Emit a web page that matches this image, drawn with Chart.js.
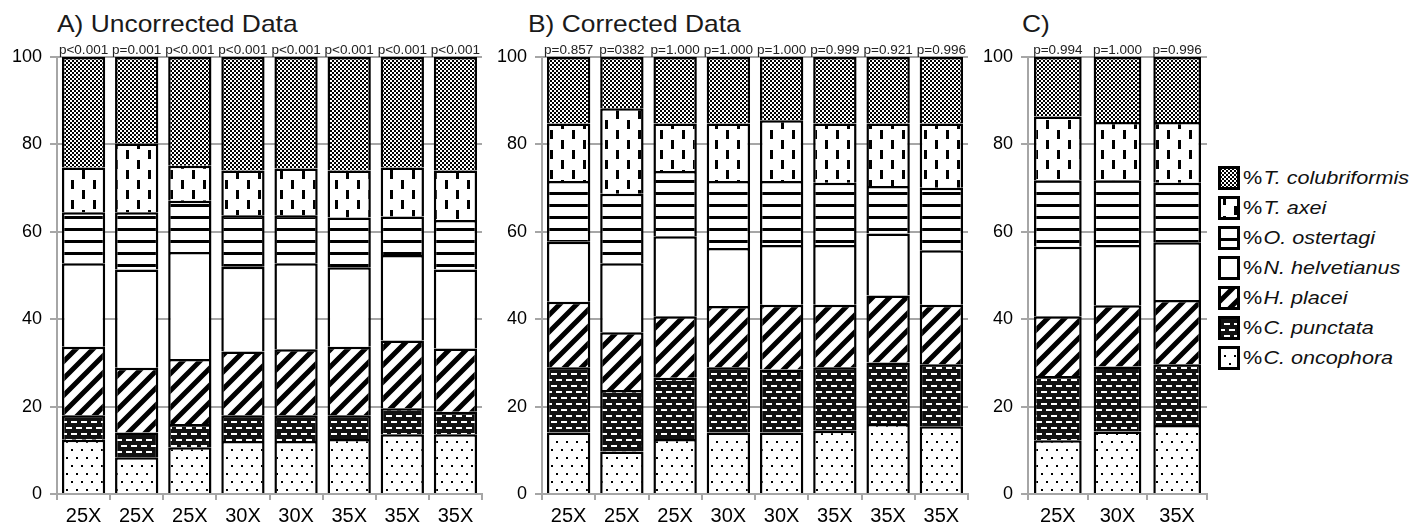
<!DOCTYPE html>
<html>
<head>
<meta charset="utf-8">
<script src="https://cdn.jsdelivr.net/npm/chart.js@4.4.1/dist/chart.umd.min.js"></script>
<style>
body { margin: 0; background: #fff; font-family: "Liberation Sans", Arial, sans-serif; }
#wrap { position: relative; width: 1427px; height: 529px; overflow: hidden; }
#wrap > canvas { position: absolute; top: 0; }
.title { position: absolute; top: 12px; font-size: 24px; line-height: 24px; color: #1a1a1a;
  transform-origin: left top; transform: scaleX(1.1); white-space: nowrap; }
#legend { position: absolute; left: 1218px; top: 166px; }
.row { height: 30px; display: flex; align-items: flex-start; }
.row span { font-size: 18px; line-height: 24px; color: #111; margin-left: 3px;
  transform-origin: left center; transform: scaleX(1.2); white-space: nowrap; }
.row i { margin-left: 1px; }
</style>
</head>
<body>
<div id="wrap">
  <div class="title" style="left:57px">A) Uncorrected Data</div>
  <div class="title" style="left:528px">B) Corrected Data</div>
  <div class="title" style="left:1022px">C)</div>
  <canvas id="chartA" width="490" height="529" style="left:0px"></canvas>
  <canvas id="chartB" width="485" height="529" style="left:490px"></canvas>
  <canvas id="chartC" width="240" height="529" style="left:975px"></canvas>
  <div id="legend"></div>
</div>
<script>
// stack order, bottom to top
const species = ['C. oncophora', 'C. punctata', 'H. placei', 'N. helvetianus', 'O. ostertagi', 'T. axei', 'T. colubriformis'];

const labelsAB = ['25X', '25X', '25X', '30X', '30X', '35X', '35X', '35X'];
const labelsC = ['25X', '30X', '35X'];

const pA = ['p<0.001', 'p=0.001', 'p<0.001', 'p<0.001', 'p<0.001', 'p<0.001', 'p<0.001', 'p<0.001'];
const pB = ['p=0.857', 'p=0382', 'p=1.000', 'p=1.000', 'p=1.000', 'p=0.999', 'p=0.921', 'p=0.996'];
const pC = ['p=0.994', 'p=1.000', 'p=0.996'];

// A) uncorrected, one row per species (same order as species)
const seriesA = [
  [12.4, 8.4, 10.7, 12.1, 12.1, 12.6, 13.7, 13.7],
  [5.6, 5.7, 5.3, 5.9, 5.9, 5.4, 5.9, 5.1],
  [15.7, 14.8, 14.9, 14.6, 15.1, 15.7, 15.5, 14.5],
  [19.1, 22.5, 24.5, 19.4, 19.7, 18.2, 19.6, 18.1],
  [11.7, 13.1, 11.7, 11.8, 11.0, 11.4, 8.8, 11.3],
  [10.2, 15.7, 8.0, 10.2, 10.7, 10.7, 11.2, 11.3],
  [25.3, 19.8, 24.9, 26.0, 25.5, 26.0, 25.3, 26.0]
];
// B) corrected
const seriesB = [
  [14.1, 9.7, 12.6, 14.1, 14.1, 14.5, 16.0, 15.5],
  [14.9, 14.1, 14.0, 14.9, 14.4, 14.5, 14.1, 14.2],
  [15.0, 13.2, 14.1, 14.0, 14.8, 14.3, 15.3, 13.6],
  [13.7, 15.8, 18.3, 13.3, 13.7, 13.7, 14.2, 12.5],
  [13.9, 15.9, 14.9, 15.3, 14.6, 14.2, 10.9, 14.3],
  [13.2, 19.6, 10.9, 13.2, 13.9, 13.6, 14.3, 14.7],
  [15.2, 11.7, 15.2, 15.2, 14.5, 15.2, 15.2, 15.2]
];
// C)
const seriesC = [
  [12.3, 14.3, 15.8],
  [14.7, 14.9, 13.9],
  [13.7, 14.0, 14.7],
  [15.9, 13.8, 13.2],
  [15.2, 14.8, 13.6],
  [14.6, 13.3, 13.9],
  [13.6, 14.9, 14.9]
];

// --- fill patterns ---
function tile(w, h, bg, draw) {
  const c = document.createElement('canvas');
  c.width = w; c.height = h;
  const g = c.getContext('2d');
  g.fillStyle = bg; g.fillRect(0, 0, w, h);
  g.fillStyle = '#000'; g.strokeStyle = '#000';
  draw(g, w, h);
  return c;
}
const helper = document.createElement('canvas').getContext('2d');
const tiles = [
  // C. oncophora: dots
  tile(10, 16, '#fff', g => { g.fillRect(1, 1, 2, 2); g.fillRect(6, 9, 2, 2); }),
  // C. punctata: black with white dashes
  tile(10, 12, '#111', g => { g.fillStyle = '#fff'; g.fillRect(1, 1, 6, 2); g.fillRect(6, 7, 6, 2); g.fillRect(-4, 7, 6, 2); }),
  // H. placei: diagonal stripes
  tile(17, 17, '#fff', (g, s) => {
    g.lineWidth = 5; g.beginPath();
    [0, s, 2 * s].forEach(k => { g.moveTo(-2, k + 2); g.lineTo(s + 2, k - s - 2); });
    g.stroke();
  }),
  // N. helvetianus: plain
  tile(4, 4, '#fff', () => {}),
  // O. ostertagi: horizontal lines
  tile(4, 12, '#fff', g => { g.fillRect(0, 0, 4, 3); }),
  // T. axei: vertical dashes
  tile(22, 20, '#fff', g => { g.fillRect(5, 0, 3, 9); g.fillRect(16, 10, 3, 9); }),
  // T. colubriformis: checker
  tile(4, 4, '#fff', g => { g.fillRect(0, 0, 2, 2); g.fillRect(2, 2, 2, 2); })
];
const patterns = tiles.map(t => helper.createPattern(t, 'repeat'));

const pvalPlugin = {
  id: 'pvals',
  afterDraw(chart, args, opts) {
    const ctx = chart.ctx, x = chart.scales.x, top = chart.chartArea.top;
    ctx.save();
    ctx.font = '13px "Liberation Sans", Arial, sans-serif';
    ctx.fillStyle = '#222';
    ctx.textAlign = 'center';
    ctx.textBaseline = 'alphabetic';
    opts.labels.forEach((t, i) => {
      ctx.save();
      ctx.translate(x.getPixelForValue(i), top - 3);
      ctx.scale(1.04, 1);
      ctx.fillText(t, 0, 0);
      ctx.restore();
    });
    ctx.restore();
  }
};

function makeChart(id, labels, series, pvals, yWidth, padRight, barPct) {
  const grey = '#a6a6a6';
  return new Chart(document.getElementById(id).getContext('2d'), {
    type: 'bar',
    data: {
      labels: labels,
      datasets: series.map((vals, k) => ({
        label: species[k],
        data: vals,
        backgroundColor: patterns[k],
        borderColor: '#000',
        borderWidth: 2.5,
        barPercentage: barPct,
        categoryPercentage: 1
      }))
    },
    options: {
      responsive: false,
      animation: false,
      layout: { padding: { top: 57, right: padRight, bottom: 0, left: 0 } },
      plugins: {
        legend: { display: false },
        tooltip: { enabled: false },
        pvals: { labels: pvals }
      },
      scales: {
        x: {
          stacked: true,
          grid: { drawOnChartArea: false, color: grey, lineWidth: 2, tickLength: 6 },
          border: { color: grey, width: 2 },
          ticks: { color: '#000', font: { size: 20, family: '"Liberation Sans", Arial' }, padding: 4 },
          afterFit: s => { s.height = 35; }
        },
        y: {
          stacked: true,
          min: 0,
          max: 100,
          ticks: { stepSize: 20, color: '#000', font: { size: 18, family: '"Liberation Sans", Arial' }, padding: 8 },
          grid: { color: grey, lineWidth: 2, tickLength: 7 },
          border: { color: grey, width: 2 },
          afterFit: s => { s.width = yWidth; }
        }
      }
    },
    plugins: [pvalPlugin]
  });
}

makeChart('chartA', labelsAB, seriesA, pA, 57, 8, 0.815);
makeChart('chartB', labelsAB, seriesB, pB, 52, 7, 0.815);
makeChart('chartC', labelsC, seriesC, pC, 53, 8, 0.80);

// legend, top to bottom
const legend = document.getElementById('legend');
for (let k = species.length - 1; k >= 0; k--) {
  const row = document.createElement('div');
  row.className = 'row';
  const sw = document.createElement('canvas');
  sw.width = 22; sw.height = 24;
  const g = sw.getContext('2d');
  g.fillStyle = patterns[k];
  g.fillRect(0, 0, 22, 24);
  g.lineWidth = 3;
  g.strokeStyle = '#000';
  g.strokeRect(1.5, 1.5, 19, 21);
  row.appendChild(sw);
  const txt = document.createElement('span');
  txt.innerHTML = '%<i>' + species[k] + '</i>';
  row.appendChild(txt);
  legend.appendChild(row);
}
</script>
</body>
</html>
